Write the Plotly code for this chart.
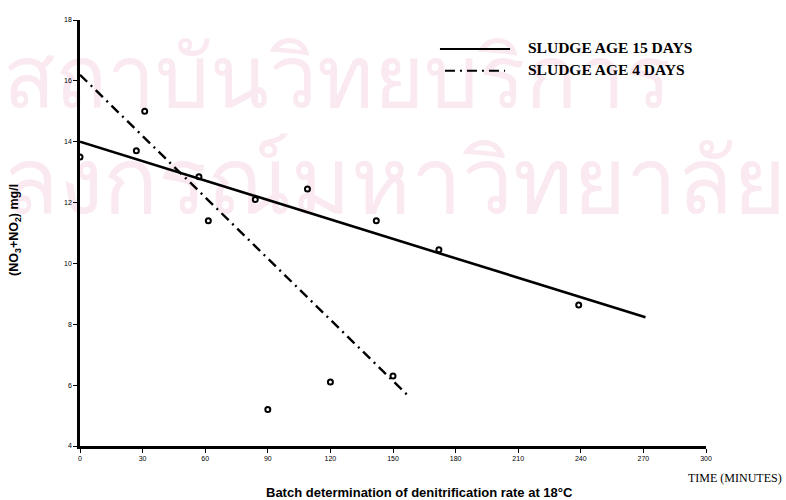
import plotly.graph_objects as go

# Data
time_15 = [0, 27, 57, 84, 109, 142, 172, 239]
no_15 = [13.5, 13.7, 12.85, 12.1, 12.45, 11.4, 10.45, 8.63]
time_4 = [31, 61.5, 90, 120, 150]
no_4 = [15.0, 11.4, 5.2, 6.1, 6.3]

fit15_x = [0, 271]
fit15_y = [14.0, 8.23]
fit4_x = [0, 158]
fit4_y = [16.2, 5.6]

x_ticks = [0, 30, 60, 90, 120, 150, 180, 210, 240, 270, 300]
y_ticks = [4, 6, 8, 10, 12, 14, 16, 18]

legend_labels = ["SLUDGE AGE 15 DAYS", "SLUDGE AGE 4 DAYS"]
watermark = ["สถาบันวิทยบริการ", "ลงกรณ์มหาวิทยาลัย"]

fig = go.Figure()

# watermark (light pink Thai text), drawn beneath the data via below-layer shapes
wm_color = "rgb(250,233,241)"
for txt, yc, sz in zip(watermark, [0.860, 0.615], [86, 91]):
    fig.add_shape(type="rect", xref="paper", yref="paper", layer="below",
                  x0=-0.128, x1=1.128, y0=yc - 0.1, y1=yc + 0.1,
                  line=dict(width=0), fillcolor="rgba(0,0,0,0)",
                  label=dict(text=txt, textposition="middle left", padding=0,
                             font=dict(size=sz, color=wm_color)))

fig.add_trace(go.Scatter(x=fit15_x, y=fit15_y, mode="lines",
                         line=dict(color="black", width=2.6), showlegend=False))
fig.add_trace(go.Scatter(x=fit4_x, y=fit4_y, mode="lines",
                         line=dict(color="black", width=2.4, dash="10px,5px,2px,5px"), showlegend=False))
fig.add_trace(go.Scatter(x=time_15, y=no_15, mode="markers",
                         marker=dict(symbol="circle-open", size=5, color="black", line=dict(width=2)),
                         showlegend=False))
fig.add_trace(go.Scatter(x=time_4, y=no_4, mode="markers",
                         marker=dict(symbol="circle-open", size=5, color="black", line=dict(width=2)),
                         showlegend=False))

# manual legend
fig.add_shape(type="line", xref="paper", yref="paper", x0=0.575, x1=0.687, y0=0.932, y1=0.932,
              line=dict(color="black", width=2))
fig.add_shape(type="line", xref="paper", yref="paper", x0=0.583, x1=0.679, y0=0.881, y1=0.881,
              line=dict(color="black", width=2, dash="10px,5px,2px,5px"))
for lbl, yy in zip(legend_labels, [0.936, 0.883]):
    fig.add_annotation(text="<b>" + lbl + "</b>", xref="paper", yref="paper", x=0.713, y=yy,
                       xanchor="left", yanchor="middle", showarrow=False,
                       font=dict(size=15.5, color="black", family="Liberation Serif"))

fig.add_annotation(text="TIME (MINUTES)", xref="paper", yref="paper", x=1.125, y=-0.075,
                   xanchor="right", yanchor="middle", showarrow=False,
                   font=dict(size=12, color="black", family="Liberation Serif"))
fig.add_annotation(text="<b>Batch determination of denitrification rate at 18°C</b>",
                   xref="paper", yref="paper", x=0.543, y=-0.108, xanchor="center", yanchor="middle",
                   showarrow=False, font=dict(size=13, color="black", family="Liberation Sans"))
fig.add_annotation(text="<b>(NO<sub>3</sub>+NO<sub>2</sub>) mg/l</b>", xref="paper", yref="paper",
                   x=-0.104, y=0.507, textangle=-90, xanchor="center", yanchor="middle",
                   showarrow=False, font=dict(size=12.5, color="black", family="Liberation Sans"))

fig.update_xaxes(range=[0, 300], tickvals=x_ticks, ticktext=[str(v) for v in x_ticks],
                 showgrid=False, zeroline=False, showline=True, linecolor="black", linewidth=2.5,
                 ticks="outside", ticklen=4, tickwidth=1.2, tickcolor="black",
                 tickfont=dict(size=7, color="black", family="Liberation Sans"))
fig.update_yaxes(range=[4, 18], tickvals=y_ticks, ticktext=[str(v) for v in y_ticks],
                 showgrid=False, zeroline=False, showline=True, linecolor="black", linewidth=2.5,
                 ticks="outside", ticklen=4, tickwidth=1.2, tickcolor="black",
                 tickfont=dict(size=7, color="black", family="Liberation Sans"))

fig.update_layout(width=786, height=500, margin=dict(l=80, r=80, t=20, b=54),
                  paper_bgcolor="white", plot_bgcolor="rgba(0,0,0,0)", showlegend=False)

fig.write_html("out.html", config={"displayModeBar": False},
               post_script="document.body.style.margin='0';")
